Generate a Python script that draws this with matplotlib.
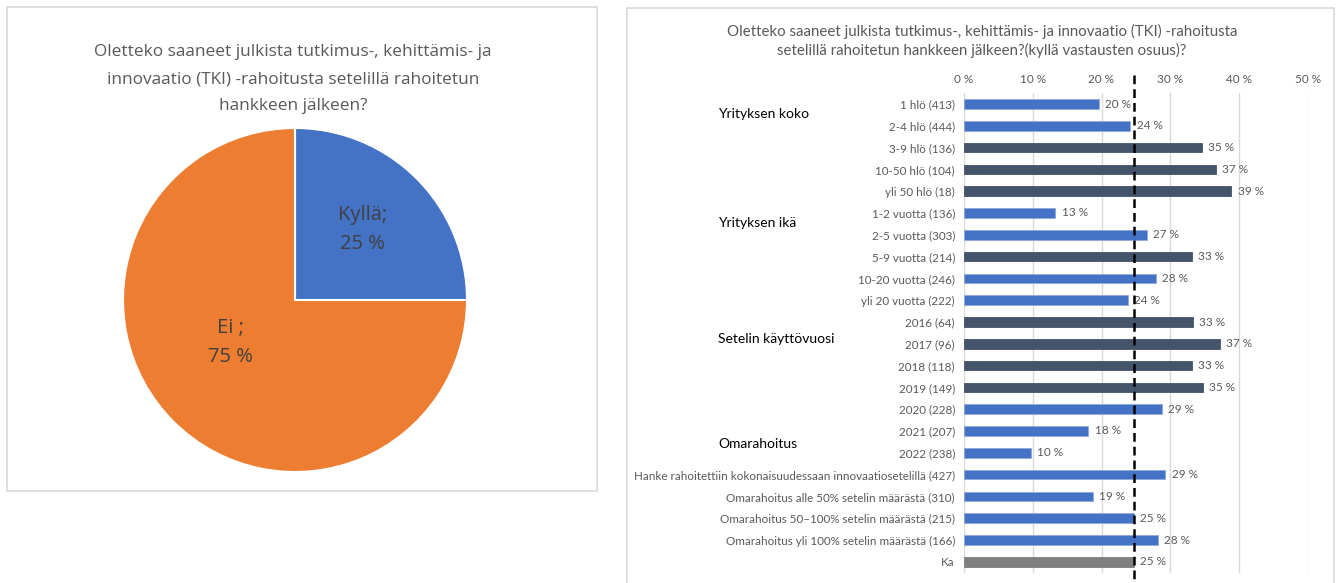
import matplotlib
matplotlib.use("Agg")
import matplotlib.pyplot as plt
from matplotlib.patches import Rectangle
import numpy as np

# ---------------- data ----------------
pie_labels = ["Kyllä", "Ei"]
pie_values = [25, 75]

categories = [
    "1 hlö (413)", "2-4 hlö (444)", "3-9 hlö (136)", "10-50 hlö (104)", "yli 50 hlö (18)",
    "1-2 vuotta (136)", "2-5 vuotta (303)", "5-9 vuotta (214)", "10-20 vuotta (246)", "yli 20 vuotta (222)",
    "2016 (64)", "2017 (96)", "2018 (118)", "2019 (149)", "2020 (228)", "2021 (207)", "2022 (238)",
    "Hanke rahoitettiin kokonaisuudessaan innovaatiosetelillä (427)",
    "Omarahoitus alle 50% setelin määrästä (310)",
    "Omarahoitus 50–100% setelin määrästä (215)",
    "Omarahoitus yli 100% setelin määrästä (166)",
    "Ka",
]
values = [19.6, 24.2, 34.6, 36.6, 38.9,
          13.3, 26.6, 33.2, 27.9, 23.8,
          33.3, 37.2, 33.2, 34.7, 28.8, 18.1, 9.7,
          29.3, 18.7, 24.7, 28.2,
          24.7]
average = 24.7
x_ticks = [0, 10, 20, 30, 40, 50]
group_labels = ["Yrityksen koko", "Yrityksen ikä", "Setelin käyttövuosi", "Omarahoitus"]

pie_title = "Oletteko saaneet julkista tutkimus-, kehittämis- ja\ninnovaatio (TKI) -rahoitusta setelillä rahoitetun\nhankkeen jälkeen?"
bar_title = "Oletteko saaneet julkista tutkimus-, kehittämis- ja innovaatio (TKI) -rahoitusta\nsetelillä rahoitetun hankkeen jälkeen?(kyllä vastausten osuus)?"

# ---------------- figure ----------------
W, H = 1341, 583
fig = plt.figure(figsize=(W / 100, H / 100), dpi=100)
fig.patch.set_facecolor("white")

def fx(px):
    return px / W

def fy(py):
    return 1 - py / H

BLUE = "#4472C4"
ORANGE = "#ED7D31"
DARK = "#44546A"
GRAY = "#7F7F7F"
TXT = "#595959"
BOX = "#D9D9D9"
NARROW = ["Liberation Sans Narrow", "Lato"]

# frames
fig.patches.append(Rectangle((fx(7), fy(491)), fx(590), (491 - 7) / H, transform=fig.transFigure,
                             fill=False, edgecolor=BOX, linewidth=1.2))
fig.patches.append(Rectangle((fx(627), fy(600)), fx(707), (600 - 8) / H, transform=fig.transFigure,
                             fill=False, edgecolor=BOX, linewidth=1.2, clip_on=False))

# ---------------- pie ----------------
cx, cy, r = 295, 300, 172
pax = fig.add_axes([fx(cx - r), fy(cy + r), fx(2 * r), 2 * r / H])
pie_texts = [f"{l};\n{v} %" if l != "Ei" else f"{l} ;\n{v} %" for l, v in zip(pie_labels, pie_values)]
wedges, texts = pax.pie(pie_values, colors=[BLUE, ORANGE], startangle=90, counterclock=False,
                        labels=pie_texts, labeldistance=0.56,
                        wedgeprops=dict(edgecolor="white", linewidth=1.5),
                        textprops=dict(fontsize=14.5, color="#404040", family="Open Sans",
                                       ha="center", va="center", linespacing=1.6))
pax.set_xlim(-1, 1)
pax.set_ylim(-1, 1)
pax.set_aspect("equal")
for t in texts:
    t.set_horizontalalignment("center")
texts[0].set_position((0.39, 0.41))
texts[1].set_position((-0.375, -0.245))

fig.text(fx(293), fy(79), pie_title, ha="center", va="center", fontsize=12.4,
         color=TXT, family="Open Sans", linespacing=1.9)

# ---------------- bar chart ----------------
x0_px, x50_px = 964, 1307.75
top_px, bot_px = 93.1, 572.7
bax = fig.add_axes([fx(x0_px), fy(bot_px), fx(x50_px - x0_px), (bot_px - top_px) / H])
y = np.arange(len(categories))
colors = [GRAY if c == "Ka" else (DARK if v >= 30 else BLUE) for c, v in zip(categories, values)]
bax.barh(y, values, height=0.44, color=colors,
         edgecolor=[("#8FAADC" if c == BLUE else c) for c in colors],
         linewidth=0.6, zorder=3)
bax.set_xlim(0, 50)
bax.set_ylim(len(categories) - 0.5, -0.5)
bax.set_xticks(x_ticks)
bax.set_xticklabels([f"{t} %" for t in x_ticks])
bax.xaxis.tick_top()
bax.set_yticks(y)
bax.set_yticklabels(categories)
bax.tick_params(axis="both", length=0, colors=TXT)
bax.tick_params(axis="x", pad=6, labelsize=8.5)
bax.tick_params(axis="y", pad=6.5, labelsize=8.4)
for lab in bax.get_xticklabels() + bax.get_yticklabels():
    lab.set_family(NARROW)
for s in bax.spines.values():
    s.set_visible(False)
bax.grid(axis="x", color=BOX, linewidth=1, zorder=0)
bax.set_axisbelow(True)

for yi, v in zip(y, values):
    bax.text(v + 0.9, yi, f"{round(v):d} %", va="center", ha="left", fontsize=8.5,
             color=TXT, family=NARROW, zorder=5)

bax.plot([average, average], [-1.33, 23], color="black", linestyle=(0, (3.5, 2)),
         linewidth=1.8, clip_on=False, zorder=6)

# group labels
for lab, py in zip(group_labels, [114, 223, 339, 444]):
    fig.text(fx(718), fy(py), lab, ha="left", va="center", fontsize=10, color="black",
             family=NARROW)

fig.text(fx(982), fy(41), bar_title, ha="center", va="center", fontsize=10.85, color=TXT,
         family=NARROW, linespacing=1.4)

fig.savefig("out.png", dpi=100, facecolor="white")
